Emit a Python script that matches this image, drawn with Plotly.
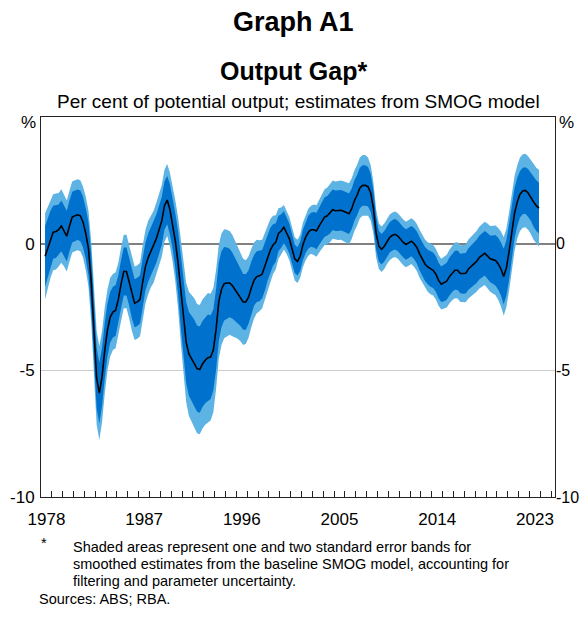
import plotly.graph_objects as go

# Output gap estimates, quarterly, starting 1978 Q2 (one row per year)
first_year = 1978
first_quarter = 2

gap = [
    [-0.5, -0.15, 0.2],            # 1978 Q2-Q4
    [0.45, 0.48, 0.55, 0.7],       # 1979
    [0.5, 0.3, 0.7, 1.05],
    [1.1, 1.14, 1.1, 0.85],
    [0.4, -0.2, -1.5, -3.4],
    [-5.3, -5.9, -5.25, -4.2],
    [-3.4, -2.9, -2.7, -2.63],
    [-2.2, -1.6, -1.1, -1.1],
    [-1.5, -2.0, -2.35, -2.3],
    [-2.2, -1.5, -0.9, -0.55],
    [-0.3, -0.12, 0.2, 0.55],
    [0.9, 1.5, 1.72, 1.35],
    [0.8, 0.1, -0.75, -1.9],       # 1990
    [-2.9, -3.9, -4.35, -4.53],
    [-4.7, -4.93, -4.97, -4.75],
    [-4.6, -4.5, -4.48, -4.2],
    [-3.4, -2.3, -1.8, -1.58],
    [-1.55, -1.55, -1.65, -1.8],
    [-1.95, -2.1, -2.3, -2.3],
    [-2.1, -1.75, -1.45, -1.3],
    [-1.27, -1.2, -0.9, -0.55],
    [-0.25, -0.05, 0.05, 0.4],
    [0.5, 0.65, 0.45, 0.2],        # 2000
    [-0.2, -0.6, -0.7, -0.5],
    [-0.05, 0.25, 0.45, 0.55],
    [0.55, 0.5, 0.7, 0.9],
    [1.05, 1.1, 1.2, 1.34],
    [1.3, 1.3, 1.32, 1.28],
    [1.22, 1.18, 1.38, 1.7],
    [1.92, 2.2, 2.3, 2.3],
    [2.25, 2.0, 1.4, 0.4],
    [-0.1, -0.22, -0.1, 0.1],
    [0.25, 0.33, 0.37, 0.3],       # 2010
    [0.16, 0.05, -0.03, 0.05],
    [0.1, 0.0, -0.15, -0.4],
    [-0.6, -0.8, -0.92, -1.0],
    [-1.05, -1.2, -1.45, -1.6],
    [-1.55, -1.48, -1.3, -1.15],
    [-1.05, -1.05, -1.18, -1.18],
    [-1.17, -1.0, -0.9, -0.8],
    [-0.7, -0.55, -0.45, -0.38],
    [-0.48, -0.6, -0.63, -0.66],
    [-0.8, -1.0, -1.3, -0.95],     # 2020
    [-0.3, 0.55, 1.2, 1.65],
    [1.95, 2.08, 2.1, 2.0],
    [1.85, 1.65, 1.5, 1.4],        # 2023
]

# one standard error (inner band half-width)
se1 = [
    [1.2, 1.15, 1.1],
    [1.05, 1.05, 1.0, 1.0],
    [1.0, 1.0, 1.0, 1.0],
    [1.0, 1.0, 1.0, 1.0],
    [1.0, 1.05, 1.1, 1.15],
    [1.2, 1.2, 1.15, 1.1],
    [1.05, 1.0, 1.0, 1.0],
    [0.95, 0.95, 0.95, 0.95],
    [0.95, 0.95, 0.95, 0.95],
    [0.95, 0.95, 0.95, 0.95],
    [0.95, 0.95, 0.95, 0.95],
    [0.95, 0.95, 0.95, 1.0],
    [1.0, 1.1, 1.25, 1.4],
    [1.5, 1.6, 1.65, 1.7],
    [1.7, 1.7, 1.7, 1.7],
    [1.7, 1.7, 1.65, 1.6],
    [1.6, 1.55, 1.5, 1.45],
    [1.4, 1.35, 1.3, 1.25],
    [1.2, 1.15, 1.1, 1.1],
    [1.05, 1.05, 1.0, 1.0],
    [1.0, 0.95, 0.95, 0.9],
    [0.88, 0.82, 0.76, 0.7],
    [0.66, 0.63, 0.6, 0.6],
    [0.58, 0.56, 0.56, 0.58],
    [0.6, 0.62, 0.65, 0.67],
    [0.7, 0.72, 0.74, 0.76],
    [0.78, 0.78, 0.8, 0.8],
    [0.8, 0.8, 0.8, 0.8],
    [0.8, 0.8, 0.8, 0.8],
    [0.8, 0.8, 0.8, 0.8],
    [0.78, 0.75, 0.7, 0.65],
    [0.6, 0.6, 0.6, 0.6],
    [0.6, 0.6, 0.6, 0.6],
    [0.6, 0.6, 0.6, 0.6],
    [0.6, 0.62, 0.63, 0.65],
    [0.65, 0.67, 0.68, 0.7],
    [0.7, 0.7, 0.7, 0.7],
    [0.72, 0.73, 0.75, 0.76],
    [0.77, 0.78, 0.78, 0.8],
    [0.8, 0.82, 0.83, 0.85],
    [0.85, 0.86, 0.87, 0.88],
    [0.9, 0.92, 0.95, 1.0],
    [1.02, 1.05, 1.1, 1.1],
    [1.1, 1.05, 1.0, 0.95],
    [0.92, 0.92, 0.92, 0.95],
    [0.95, 0.98, 1.0, 1.0],
]

# two standard errors (outer band half-width)
se2 = [
    [1.7, 1.6, 1.55],
    [1.5, 1.5, 1.45, 1.45],
    [1.4, 1.4, 1.4, 1.4],
    [1.4, 1.4, 1.4, 1.4],
    [1.45, 1.5, 1.6, 1.7],
    [1.85, 1.85, 1.8, 1.7],
    [1.6, 1.55, 1.5, 1.5],
    [1.45, 1.45, 1.45, 1.45],
    [1.45, 1.45, 1.45, 1.45],
    [1.45, 1.45, 1.45, 1.45],
    [1.42, 1.42, 1.42, 1.42],
    [1.42, 1.42, 1.42, 1.45],
    [1.5, 1.6, 1.8, 2.0],
    [2.2, 2.35, 2.45, 2.5],
    [2.55, 2.55, 2.55, 2.55],
    [2.55, 2.55, 2.5, 2.45],
    [2.35, 2.25, 2.2, 2.15],
    [2.1, 2.05, 2.0, 1.9],
    [1.8, 1.75, 1.7, 1.65],
    [1.6, 1.55, 1.5, 1.45],
    [1.4, 1.35, 1.3, 1.25],
    [1.22, 1.15, 1.07, 1.0],
    [0.93, 0.88, 0.86, 0.85],
    [0.85, 0.85, 0.85, 0.85],
    [0.88, 0.9, 0.93, 0.95],
    [1.0, 1.02, 1.05, 1.08],
    [1.1, 1.12, 1.14, 1.15],
    [1.15, 1.16, 1.17, 1.18],
    [1.2, 1.2, 1.2, 1.2],
    [1.2, 1.2, 1.2, 1.2],
    [1.15, 1.1, 1.02, 0.95],
    [0.9, 0.9, 0.9, 0.9],
    [0.9, 0.9, 0.9, 0.9],
    [0.9, 0.9, 0.9, 0.9],
    [0.9, 0.92, 0.93, 0.95],
    [0.95, 0.96, 0.98, 1.0],
    [1.0, 1.0, 1.0, 1.0],
    [1.02, 1.04, 1.06, 1.08],
    [1.1, 1.11, 1.12, 1.13],
    [1.14, 1.16, 1.18, 1.2],
    [1.2, 1.22, 1.24, 1.25],
    [1.28, 1.3, 1.34, 1.38],
    [1.42, 1.48, 1.55, 1.55],
    [1.55, 1.5, 1.48, 1.45],
    [1.45, 1.45, 1.45, 1.45],
    [1.47, 1.5, 1.5, 1.52],
]

year_labels = ["1978", "1987", "1996", "2005", "2014", "2023"]
y_ticks = [-10, -5, 0]
y_ticktext = ["-10", "-5", "0"]

footnote_lines = [
    "Shaded areas represent one and two standard error bands for",
    "smoothed estimates from the baseline SMOG model, accounting for",
    "filtering and parameter uncertainty.",
]

colors = {
    "outer": "#5DB4E4",
    "inner": "#0072CE",
    "line": "#000000",
    "zero": "#808080",
    "grid": "#CCCCCC",
    "frame": "#222222",
}

# flatten rows
g = [v for row in gap for v in row]
s1 = [v for row in se1 for v in row]
s2 = [v for row in se2 for v in row]
x = [first_year + (first_quarter - 1 + i) / 4 + 0.125 for i in range(len(g))]

outer_hi = [a + b for a, b in zip(g, s2)]
outer_lo = [a - b for a, b in zip(g, s2)]
inner_hi = [a + b for a, b in zip(g, s1)]
inner_lo = [a - b for a, b in zip(g, s1)]

fig = go.Figure()
fig.add_trace(go.Scatter(x=x, y=outer_hi, mode="lines", line=dict(width=0),
                         hoverinfo="skip", showlegend=False))
fig.add_trace(go.Scatter(x=x, y=outer_lo, mode="lines", line=dict(width=0),
                         fill="tonexty", fillcolor=colors["outer"],
                         hoverinfo="skip", showlegend=False))
fig.add_trace(go.Scatter(x=x, y=inner_hi, mode="lines", line=dict(width=0),
                         hoverinfo="skip", showlegend=False))
fig.add_trace(go.Scatter(x=x, y=inner_lo, mode="lines", line=dict(width=0),
                         fill="tonexty", fillcolor=colors["inner"],
                         hoverinfo="skip", showlegend=False))
fig.add_trace(go.Scatter(x=x, y=g, mode="lines",
                         line=dict(color=colors["line"], width=1.6),
                         showlegend=False, name="Output gap"))
# dummy trace so the right-hand axis is drawn
fig.add_trace(go.Scatter(x=[x[0]], y=[g[0]], yaxis="y2", mode="markers",
                         marker=dict(opacity=0), hoverinfo="skip", showlegend=False))

# the page body has an 8px margin, so the figure is drawn 8px in from the window
OFF = 8
W, H = 587 - 2 * OFF, 617 - 2 * OFF
# plot area in window pixels
L, R, T, B = 40.5, 555.5, 117, 497


def px(xp):
    return (xp - L) / (R - L)


def py(yp):
    return (B - yp) / (B - T)


font = "Liberation Sans, Arial, sans-serif"
tick_font = dict(family=font, size=17, color="#000")

fig.update_layout(
    width=W, height=H,
    margin=dict(l=L - OFF, r=W - (R - OFF), t=T - OFF, b=H - (B - OFF), autoexpand=False),
    paper_bgcolor="white", plot_bgcolor="white",
    font=dict(family=font, color="#000"),
    xaxis=dict(
        range=[1978, 2025.35],
        tickmode="array",
        tickvals=[int(s) + 0.5 for s in year_labels],
        ticktext=year_labels,
        ticks="",
        tickfont=tick_font,
        ticklabelstandoff=7,
        showgrid=False, zeroline=False,
        showline=True, mirror=True, linecolor=colors["frame"], linewidth=1,
        minor=dict(tickmode="array", tickvals=list(range(1979, 2026)),
                   ticks="inside", ticklen=6, tickcolor=colors["frame"],
                   tickwidth=1, showgrid=False),
    ),
    yaxis=dict(
        range=[-10, 5],
        tickmode="array", tickvals=y_ticks, ticktext=y_ticktext,
        ticks="", tickfont=tick_font, ticklabelstandoff=2,
        showgrid=True, gridcolor=colors["grid"], gridwidth=1,
        zeroline=True, zerolinecolor=colors["zero"], zerolinewidth=1.5,
        showline=True, mirror=True, linecolor=colors["frame"], linewidth=1,
    ),
    yaxis2=dict(
        range=[-10, 5], overlaying="y", side="right",
        tickmode="array", tickvals=y_ticks, ticktext=y_ticktext,
        ticks="", tickfont=dict(family=font, size=16, color="#000"),
        ticklabelstandoff=0,
        showgrid=False, zeroline=False, showline=False,
    ),
)

annotations = [
    dict(text="<b>Graph A1</b>", x=px(293.5), y=py(22), font=dict(size=27)),
    dict(text="<b>Output Gap*</b>", x=px(293.5), y=py(71), font=dict(size=25)),
    dict(text="Per cent of potential output; estimates from SMOG model",
         x=px(298), y=py(101), font=dict(size=19)),
    dict(text="%", x=px(28), y=py(122), font=dict(size=17)),
    dict(text="%", x=px(567), y=py(122), font=dict(size=17)),
    dict(text="*", x=px(38), y=py(543), xanchor="left", font=dict(size=14.5)),
    dict(text="Sources: ABS; RBA.", x=px(36), y=py(599), xanchor="left",
         font=dict(size=14.5)),
]
for i, line in enumerate(footnote_lines):
    annotations.append(dict(text=line, x=px(71), y=py(547 + 17 * i),
                            xanchor="left", font=dict(size=14.5)))

for a in annotations:
    a.setdefault("xref", "paper")
    a.setdefault("yref", "paper")
    a.setdefault("showarrow", False)
    a.setdefault("xanchor", "center")
    a.setdefault("yanchor", "middle")
    a["font"] = dict(family=font, color="#000", **a["font"])
fig.update_layout(annotations=annotations)

fig.write_html("out.html")
